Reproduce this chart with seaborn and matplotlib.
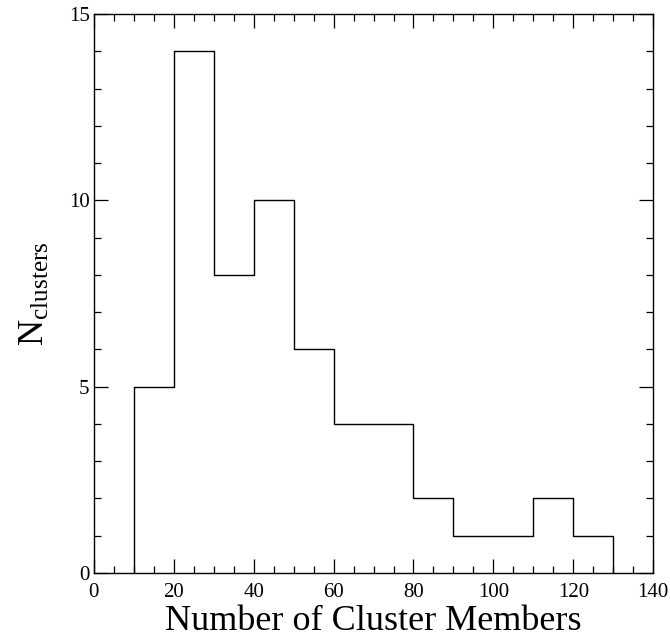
import numpy as np
import pandas as pd
import matplotlib
matplotlib.use("Agg")
import matplotlib.pyplot as plt
import seaborn as sns
from matplotlib.ticker import MultipleLocator

# Histogram of cluster membership counts
bin_edges = [10, 20, 30, 40, 50, 60, 70, 80, 90, 100, 110, 120, 130]
cluster_counts = [5, 14, 8, 10, 6, 4, 4, 2, 1, 1, 2, 1]
bin_centers = [(a + b) / 2 for a, b in zip(bin_edges[:-1], bin_edges[1:])]

df = pd.DataFrame({"members": bin_centers, "n": cluster_counts})

sns.set_theme(style="ticks")
plt.rcParams["font.family"] = ["Liberation Serif", "DejaVu Serif"]
plt.rcParams["mathtext.fontset"] = "custom"
plt.rcParams["mathtext.rm"] = "Liberation Serif"
plt.rcParams["mathtext.it"] = "Liberation Serif:italic"
plt.rcParams["text.color"] = "black"
plt.rcParams["axes.labelcolor"] = "black"
plt.rcParams["xtick.color"] = "black"
plt.rcParams["ytick.color"] = "black"

fig = plt.figure(figsize=(6.70, 6.36), dpi=100)
ax = fig.add_axes([0.140, 0.099, 0.835, 0.879])

sns.histplot(data=df, x="members", weights="n", bins=bin_edges,
             element="step", fill=False, color="black", linewidth=1.0, ax=ax)
# close the outline at the outer bin edges
ax.vlines([bin_edges[0], bin_edges[-1]], 0, [cluster_counts[0], cluster_counts[-1]],
          color="black", linewidth=1.0)

ax.set_xlim(0, 140)
ax.set_ylim(0, 15)
ax.xaxis.set_major_locator(MultipleLocator(20))
ax.xaxis.set_minor_locator(MultipleLocator(5))
ax.yaxis.set_major_locator(MultipleLocator(5))
ax.yaxis.set_minor_locator(MultipleLocator(1))
ax.tick_params(which="both", direction="in", top=True, right=True,
               color="black", width=0.9, labelsize=15, pad=7)
ax.tick_params(which="major", length=10)
ax.tick_params(which="minor", length=5)
ax.tick_params(axis="y", which="both", pad=3)
for s in ax.spines.values():
    s.set_linewidth(1.0)
    s.set_color("black")

ax.set_xlabel("Number of Cluster Members", fontsize=26, labelpad=2)
ax.set_ylabel(r"N$_{\rm clusters}$", fontsize=26, labelpad=12)

fig.savefig("out.png", dpi=100)
